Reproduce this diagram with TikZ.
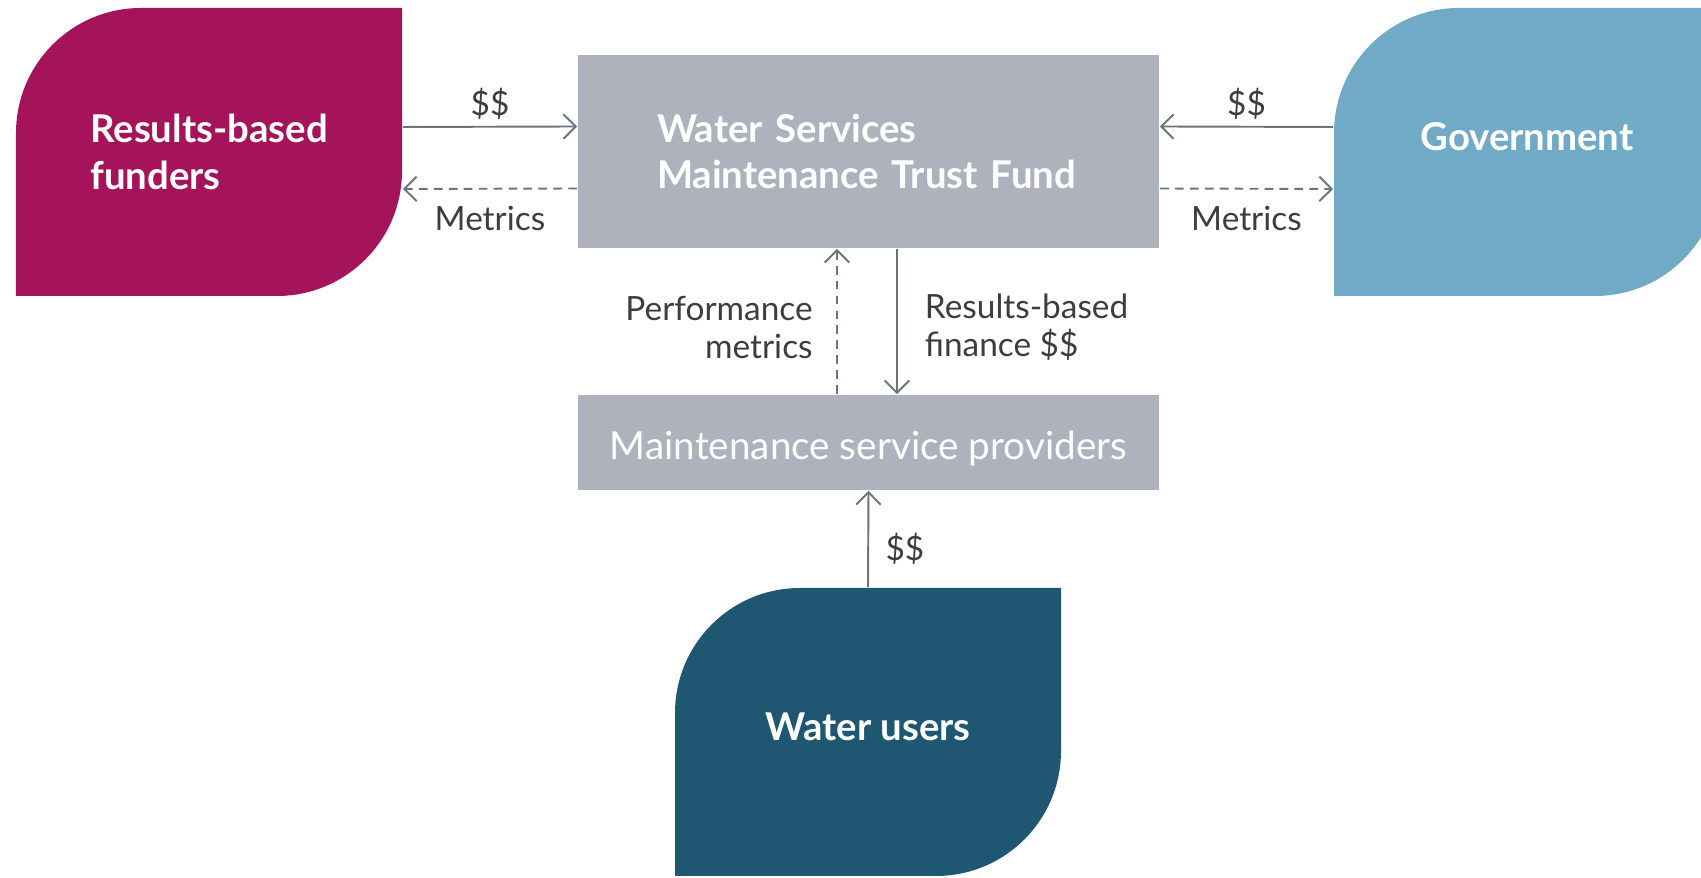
\documentclass[tikz,border=0pt]{standalone}
\usepackage{fontspec}
\setmainfont{Lato}
\usetikzlibrary{arrows.meta}
\definecolor{funder}{HTML}{A5145A}
\definecolor{govt}{HTML}{70AAC6}
\definecolor{users}{HTML}{1F5672}
\definecolor{boxgray}{HTML}{AEB2BD}
\definecolor{linegray}{HTML}{6A7480}
\definecolor{labelgray}{HTML}{3D3D3D}

\begin{document}
\begin{tikzpicture}[->,>={Straight Barb[length=7pt,width=14pt]},line width=1.1pt,
    leaf/.style={minimum width=7.72cm,minimum height=5.76cm,inner sep=0pt,text=white,
      font=\fontsize{21.8}{27}\selectfont\bfseries,align=center,
      path picture={\fill[#1,-] (path picture bounding box.south west) -- ++(0,3.26)
        arc[start angle=180,end angle=90,radius=2.5] -- (path picture bounding box.north east)
        -- ++(0,-3.26) arc[start angle=0,end angle=-90,radius=2.5] -- cycle;}},
    box/.style={fill=boxgray,minimum width=11.62cm,inner sep=0pt,text=white},
    flow/.style={draw=linegray},
    lbl/.style={text=labelgray,font=\fontsize{19}{21.5}\selectfont}]
  \useasboundingbox (0,0) rectangle (34.02,17.56);

  \node[leaf=funder,align=left] (funders) at (4.18,14.52) {Results-based\\funders};
  \node[leaf=govt,text depth=18pt] (gov) at (30.54,14.52) {Government};
  \node[leaf=users,text depth=6pt] (users) at (17.36,2.92) {Water users};

  \node[box,minimum height=3.86cm,text width=8.46cm,inner xsep=1.58cm,align=left,
    font=\fontsize{21.8}{26.5}\selectfont\bfseries] (trust) at (17.37,14.53)
    {Water Services\\Maintenance Trust Fund};
  \node[box,minimum height=1.9cm,text height=23pt,font=\fontsize{22}{26}\selectfont] (msp)
    at (17.37,8.71) {Maintenance service providers};

  % top row
  \draw[flow] ([yshift=0.5cm]funders.east) -- node[lbl,above]{\$\$} ([yshift=0.5cm]trust.west);
  \draw[flow,dash pattern=on 5pt off 3.5pt] ([yshift=-0.74cm]trust.west)
    -- node[lbl,below=6pt]{Metrics} ([yshift=-0.74cm]funders.east);
  \draw[flow] ([yshift=0.5cm]gov.west) -- node[lbl,above]{\$\$} ([yshift=0.5cm]trust.east);
  \draw[flow,dash pattern=on 5pt off 3.5pt] ([yshift=-0.74cm]trust.east)
    -- node[lbl,below=6pt]{Metrics} ([yshift=-0.74cm]gov.west);

  % middle
  \draw[flow,dash pattern=on 5pt off 3.5pt] ([xshift=-0.63cm]msp.north)
    -- node[lbl,left=10pt,align=right,pos=0.46]{Performance\\metrics} ([xshift=-0.63cm]trust.south);
  \draw[flow] ([xshift=0.57cm]trust.south)
    -- node[lbl,right=12pt,align=left,pos=0.54]{Results-based\\finance \$\$} ([xshift=0.57cm]msp.north);
  \draw[flow] (users.north) -- node[lbl,right=6pt,pos=0.4]{\$\$} (msp.south);
\end{tikzpicture}
\end{document}
